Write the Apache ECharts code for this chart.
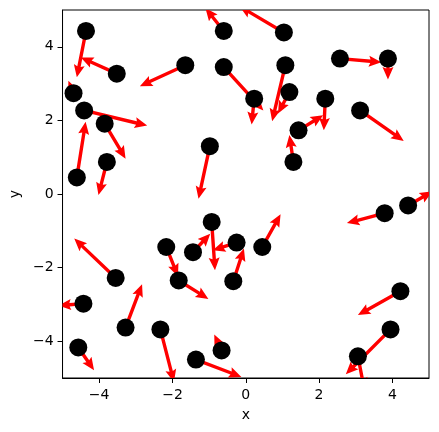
<!DOCTYPE html>
<html>
<head>
<meta charset="utf-8">
<script src="https://cdn.jsdelivr.net/npm/echarts@6/dist/echarts.min.js"></script>
<style>
  html, body { margin: 0; padding: 0; background: #fff; }
  #main { width: 439px; height: 432px; }
</style>
</head>
<body>
<div id="main"></div>
<script>
  // point positions
  var xs = [-4.36, -3.52, -4.70, -4.41, -3.85, -4.61, -3.79, -1.65, -0.98, -0.60,
            -0.60, 0.23, 1.04, 1.08, 1.19, 1.44, 1.30, 2.17, 2.57, 3.88,
            3.12, 4.43, 3.79, 4.22, 3.95, 3.06, 0.45, -0.93, -1.44, -0.25,
            -0.34, -2.17, -1.83, -3.55, -4.43, -3.28, -2.33, -4.57, -1.36, -0.66];
  var ys = [4.43, 3.27, 2.74, 2.27, 1.91, 0.45, 0.87, 3.50, 1.30, 4.43,
            3.45, 2.59, 4.39, 3.50, 2.77, 1.73, 0.87, 2.59, 3.68, 3.68,
            2.27, -0.31, -0.52, -2.64, -3.68, -4.41, -1.44, -0.76, -1.58, -1.32,
            -2.37, -1.44, -2.35, -2.28, -2.98, -3.63, -3.68, -4.17, -4.50, -4.25];
  // arrow vectors (data units)
  var us = [-0.25, -0.98, -0.14, 1.72, 0.57, 0.24, -0.23, -1.24, -0.31, -0.50,
            1.08, -0.07, -1.21, -0.36, -0.31, 0.67, -0.11, -0.04, 1.13, 0.00,
            1.19, 0.66, -1.03, -1.16, -1.22, 0.18, 0.50, 0.09, 0.47, -0.65,
            0.29, 0.32, 0.81, -1.13, -0.68, 0.45, 0.37, 0.43, 1.24, -0.20];
  var vs = [-1.26, 0.44, 0.34, -0.41, -0.95, 1.51, -0.90, -0.57, -1.43, 0.62,
            -1.18, -0.70, 0.71, -1.52, -0.58, 0.41, 0.73, -0.86, -0.10, -0.57,
            -0.83, 0.38, -0.27, -0.65, -1.22, -0.92, 0.89, -1.31, 0.50, -0.21,
            0.89, -0.80, -0.50, 1.07, -0.05, 1.18, -1.43, -0.62, -0.47, 0.43];
  var tickVals = [-4, -2, 0, 2, 4];

  var pts = xs.map(function (x, i) { return [x, ys[i]]; });
  var arrows = xs.map(function (x, i) { return [x, ys[i], us[i], vs[i]]; });

  function fmt(v) { return String(v).replace('-', '\u2212'); }

  // quiver-like arrow polygon
  function renderArrow(params, api) {
    var x = api.value(0), y = api.value(1), u = api.value(2), v = api.value(3);
    var p0 = api.coord([x, y]);
    var p1 = api.coord([x + u, y + v]);
    var dx = p1[0] - p0[0], dy = p1[1] - p0[1];
    var len = Math.sqrt(dx * dx + dy * dy);
    var w = 3.4, hw = 11, hl = 12.5, hal = 11;
    if (len < hl) {
      var s = len / hl;
      w *= s; hw *= s; hl *= s; hal *= s;
    }
    var ux = dx / len, uy = dy / len;
    var nx = -uy, ny = ux;
    var local = [
      [0, -w / 2], [len - hal, -w / 2], [len - hl, -hw / 2], [len, 0],
      [len - hl, hw / 2], [len - hal, w / 2], [0, w / 2]
    ];
    var points = local.map(function (q) {
      return [p0[0] + q[0] * ux + q[1] * nx, p0[1] + q[0] * uy + q[1] * ny];
    });
    var cs = params.coordSys;
    return {
      type: 'group',
      clipPath: { type: 'rect', shape: { x: cs.x, y: cs.y, width: cs.width, height: cs.height } },
      children: [{ type: 'polygon', shape: { points: points }, style: { fill: '#ff0000' } }]
    };
  }

  var axisText = { color: '#000', fontFamily: 'DejaVu Sans', fontSize: 14 };

  var myChart = echarts.init(document.getElementById('main'));
  var option = {
    animation: false,
    grid: { left: 60, right: 10, top: 10, bottom: 54, show: true, borderColor: '#000', borderWidth: 1 },
    xAxis: {
      type: 'value', min: -5, max: 5,
      name: 'x', nameLocation: 'middle', nameGap: 30,
      nameTextStyle: axisText,
      axisLine: { show: true, onZero: false, lineStyle: { color: '#000', width: 1 } },
      axisTick: { show: true, length: 5, customValues: tickVals, lineStyle: { color: '#000' } },
      axisLabel: { customValues: tickVals, margin: 10, formatter: fmt, color: '#000', fontFamily: 'DejaVu Sans', fontSize: 14 },
      splitLine: { show: false }
    },
    yAxis: {
      type: 'value', min: -5, max: 5,
      name: 'y', nameLocation: 'middle', nameGap: 36,
      nameTextStyle: axisText,
      axisLine: { show: true, onZero: false, lineStyle: { color: '#000', width: 1 } },
      axisTick: { show: true, length: 5, customValues: tickVals, lineStyle: { color: '#000' } },
      axisLabel: { customValues: tickVals, margin: 9, formatter: fmt, color: '#000', fontFamily: 'DejaVu Sans', fontSize: 14 },
      splitLine: { show: false }
    },
    series: [
      {
        type: 'custom',
        renderItem: renderArrow,
        data: arrows,
        encode: { x: 0, y: 1 },
        silent: true
      },
      {
        type: 'scatter',
        data: pts,
        symbolSize: 18,
        itemStyle: { color: '#000', opacity: 1 },
        silent: true
      }
    ]
  };
  option && myChart.setOption(option);
</script>
</body>
</html>
